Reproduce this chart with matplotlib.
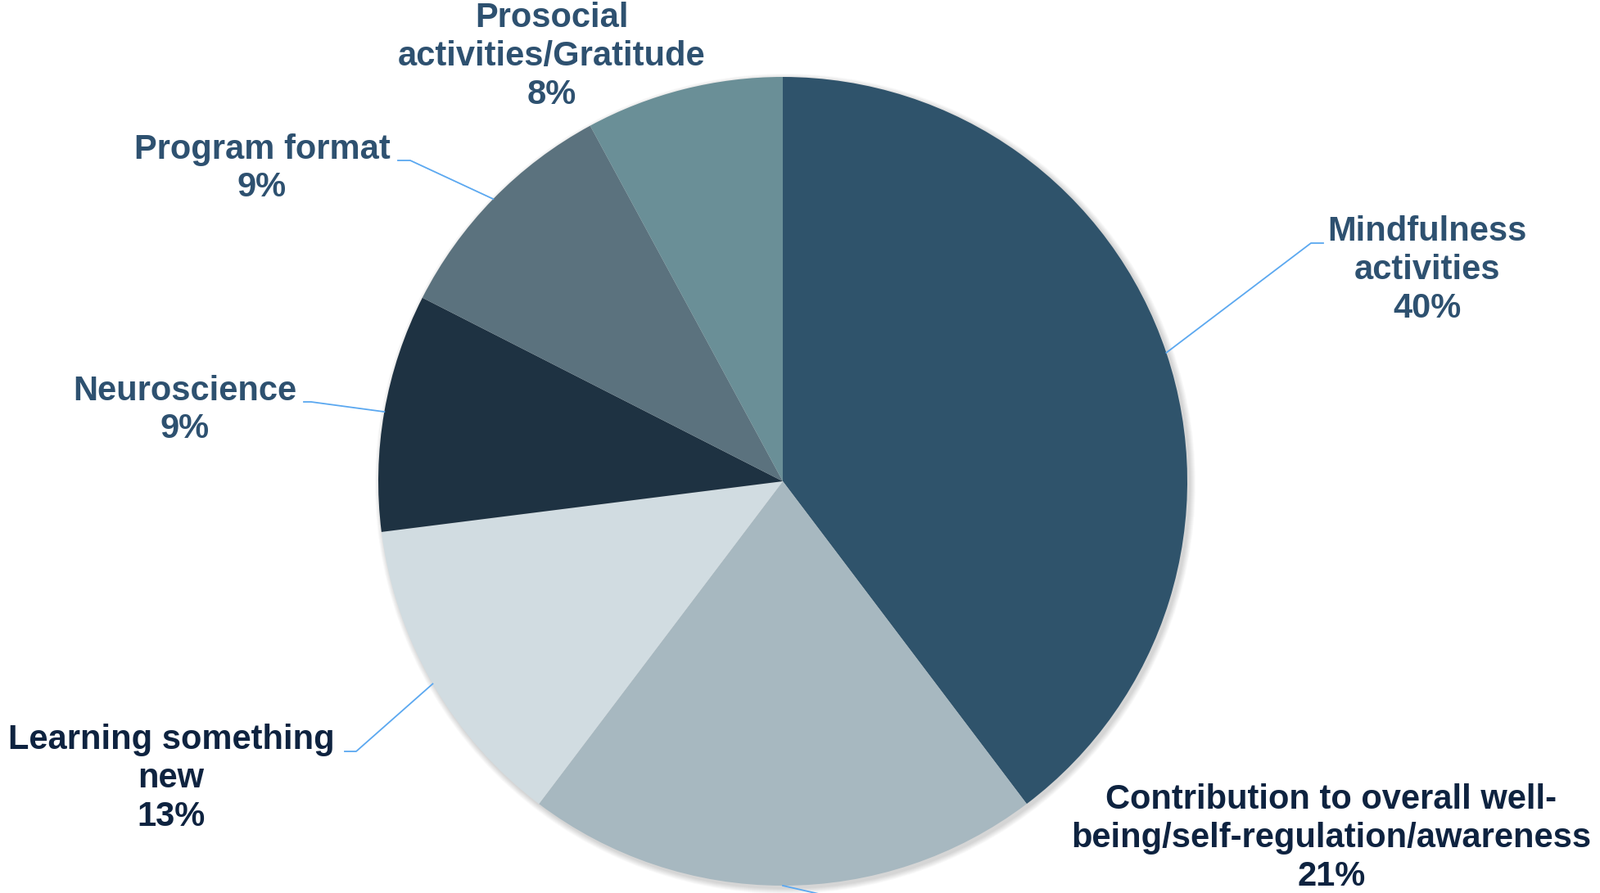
import numpy as np
import matplotlib.pyplot as plt
from matplotlib import font_manager
from matplotlib.patches import Circle

# data
categories = ["Mindfulness\nactivities",
              "Contribution to overall well-\nbeing/self-regulation/awareness",
              "Learning something\nnew",
              "Neuroscience",
              "Program format",
              "Prosocial\nactivities/Gratitude"]
shares = [39.7, 20.6, 12.7, 9.5, 9.6, 7.9]      # slice sizes as drawn
pct_labels = [40, 21, 13, 9, 9, 8]               # printed percentages
colors = ["#2F536B", "#A7B8C0", "#D1DCE1", "#1E3242", "#5B727E", "#6A8F97"]
text_colors = ["#2E5170", "#0E2340", "#0E2340", "#2E5170", "#2E5170", "#2E5170"]

# layout (figure pixels, y up)
W, H = 1954, 1091
cx, cy, r = 956, H - 588, 494
label_pos = [(1743, H - 330), (1626, H - 1024), (209, H - 951),
             (226, H - 501), (320, H - 206), (674, H - 69)]
elbows = [(1601, H - 297, 1616), (1035, H - 1100, 1045), (435, H - 918, 421),
          (380, H - 491, 371), (501, H - 196, 486), None]

names = {f.name for f in font_manager.fontManager.ttflist}
family = "Liberation Sans Narrow" if "Liberation Sans Narrow" in names else "Liberation Sans"

fig = plt.figure(figsize=(W / 100, H / 100), dpi=100)
ax = fig.add_axes([0, 0, 1, 1])

# soft shadow
for k in range(7):
    ax.add_patch(Circle((cx + 3, cy - 3), r + 7 - k, color="#000000", alpha=0.025, lw=0, zorder=0))

wedges, _ = ax.pie(shares, center=(cx, cy), radius=r, startangle=90,
                   counterclock=False, colors=colors,
                   wedgeprops=dict(linewidth=0))
for w in wedges:
    w.set_zorder(1)

ax.set_xlim(0, W)
ax.set_ylim(0, H)
ax.set_aspect("equal")
ax.axis("off")

for i, (w, name, val) in enumerate(zip(wedges, categories, pct_labels)):
    mid = np.deg2rad((w.theta1 + w.theta2) / 2)
    x0, y0 = cx + r * np.cos(mid), cy + r * np.sin(mid)
    if elbows[i] is not None:
        ex, ey, tx = elbows[i]
        ax.plot([x0, ex, tx], [y0, ey, ey], color="#5BA8F0", lw=1.3, zorder=2, clip_on=False)
    lx, ly = label_pos[i]
    ax.text(lx, ly, f"{name}\n{val}%", ha="center", va="center", fontsize=30,
            fontweight="bold", family=family, color=text_colors[i],
            linespacing=1.22, zorder=3)

fig.savefig("out.png", dpi=100, facecolor="white")
